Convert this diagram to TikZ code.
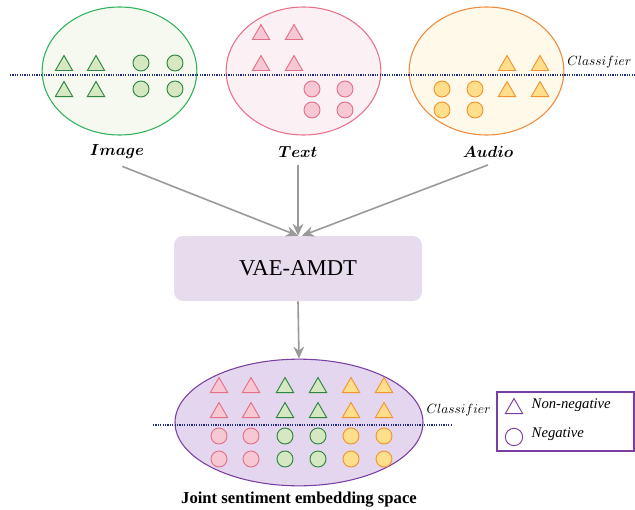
\documentclass[tikz,border=0pt]{standalone}
\usepackage{amsmath,bm}
\usepackage{fontspec}
\setmainfont{Liberation Serif}
\usetikzlibrary{arrows.meta,positioning,shapes.geometric}

\definecolor{imgline}{HTML}{2DB35C}
\definecolor{imgfill}{HTML}{F6F9F0}
\definecolor{txtline}{HTML}{E8708A}
\definecolor{txtfill}{HTML}{FBF1F4}
\definecolor{audline}{HTML}{F08A3C}
\definecolor{audfill}{HTML}{FFF9EA}
\definecolor{grnline}{HTML}{2E8540}
\definecolor{grnfill}{HTML}{D5E8C2}
\definecolor{pnkline}{HTML}{E46F89}
\definecolor{pnkfill}{HTML}{F6C8D3}
\definecolor{orgline}{HTML}{F29431}
\definecolor{orgfill}{HTML}{FFDF8C}
\definecolor{boxfill}{HTML}{E6DCEE}
\definecolor{spacefill}{HTML}{E3D6EE}
\definecolor{spaceline}{HTML}{7B3FA3}
\definecolor{clsline}{HTML}{1F2A80}
\definecolor{flowgray}{HTML}{9A9A9A}

\begin{document}
\begin{tikzpicture}[
  x=0.75pt, y=-0.75pt,
  >=Stealth,
  modality/.style={ellipse,draw,line width=0.8pt,minimum width=116pt,minimum height=96pt},
  tri/.style={regular polygon,regular polygon sides=3,draw,line width=0.7pt,minimum size=15pt,inner sep=0pt,yshift=-1.9pt},
  dot/.style={circle,draw,line width=0.7pt,minimum size=12pt,inner sep=0pt},
  green/.style={draw=grnline,fill=grnfill},
  pink/.style={draw=pnkline,fill=pnkfill},
  orange/.style={draw=orgline,fill=orgfill},
  modlabel/.style={font=\fontsize{12.5}{15}\selectfont},
  classline/.style={draw=clsline,line width=0.9pt,dash pattern=on 0.9pt off 0.9pt},
  flow/.style={->,draw=flowgray,line width=1.2pt,arrows={-Stealth[length=9pt,width=8pt]}}
]
\useasboundingbox (0,0) rectangle (635,510);

% input modalities
\node[modality,draw=imgline,fill=imgfill] (img) at (119.5,71) {};
\node[modality,draw=txtline,fill=txtfill] (txt) at (303.5,71) {};
\node[modality,draw=audline,fill=audfill] (aud) at (486.5,71) {};

\coordinate (clsL) at (10,75);
\coordinate (clsR) at (635,75);
\draw[classline] (clsL) -- (clsR);
\node[anchor=south east,inner sep=1pt] (cls1) at (633,70) {$Classifier$};

% image samples
\foreach \x/\i in {64/1,96/2} {
  \node[tri,green] (imgt\i a) at (\x,63) {};
  \node[tri,green] (imgt\i b) at (\x,89) {};
}
\foreach \x/\i in {141/1,175/2} {
  \node[dot,green] (imgc\i a) at (\x,63) {};
  \node[dot,green] (imgc\i b) at (\x,89) {};
}
% text samples
\foreach \x/\i in {261/1,294/2} {
  \node[tri,pink] (txtt\i a) at (\x,32) {};
  \node[tri,pink] (txtt\i b) at (\x,63) {};
}
\foreach \x/\i in {312/1,345/2} {
  \node[dot,pink] (txtc\i a) at (\x,89) {};
  \node[dot,pink] (txtc\i b) at (\x,110) {};
}
% audio samples
\foreach \x/\i in {507/1,540/2} {
  \node[tri,orange] (audt\i a) at (\x,63) {};
  \node[tri,orange] (audt\i b) at (\x,89) {};
}
\foreach \x/\i in {442/1,475/2} {
  \node[dot,orange] (audc\i a) at (\x,89) {};
  \node[dot,orange] (audc\i b) at (\x,110) {};
}

\node[modlabel] (imglbl) at (117,152) {$\bm{Image}$};
\node[modlabel] (txtlbl) at (298,152) {$\bm{Text}$};
\node[modlabel] (audlbl) at (488,152) {$\bm{Audio}$};

% model
\node[fill=boxfill,rounded corners=7pt,minimum width=186pt,minimum height=48.75pt,font=\fontsize{17}{20}\selectfont] (vae) at (298,268.5) {VAE-AMDT};

\draw[flow] ([xshift=4pt,yshift=-2pt]imglbl.south) -- (vae.north);
\draw[flow] ([yshift=-2pt]txtlbl.south) -- (vae.north);
\draw[flow] ([yshift=-2pt]audlbl.south) -- ([xshift=3pt]vae.north);

% joint space
\node[ellipse,draw=spaceline,fill=spacefill,line width=0.8pt,minimum width=186pt,minimum height=95pt] (space) at (299,422.5) {};
\draw[flow] (vae.south) -- (space.north);

\coordinate (cls2L) at (153,425);
\coordinate (cls2R) at (452,425);
\draw[classline] (cls2L) -- (cls2R);
\node[anchor=south west,inner sep=1pt] (cls2) at (425,418) {$Classifier$};

\foreach \x/\c/\i in {219/pink/1,251/pink/2,285/green/3,318/green/4,351/orange/5,384/orange/6} {
  \node[tri,\c] (jt\i a) at (\x,385) {};
  \node[tri,\c] (jt\i b) at (\x,410) {};
  \node[dot,\c] (jc\i a) at (\x,436) {};
  \node[dot,\c] (jc\i b) at (\x,459) {};
}

\node[font=\bfseries\fontsize{12.5}{15}\selectfont] (spacelbl) at (299,500) {Joint sentiment embedding space};

% legend
\node[draw=spaceline,line width=0.8pt,minimum width=102.75pt,minimum height=44.25pt] (legend) at (565.5,421.5) {};
\node[tri,draw=spaceline,fill=none] (legtri) at (514,406) {};
\node[dot,draw=spaceline,fill=none,minimum size=13pt] (legdot) at (514,437) {};
\node[anchor=west,font=\itshape\fontsize{11}{13}\selectfont] (legpos) at (527,405) {Non-negative};
\node[anchor=west,font=\itshape\fontsize{11}{13}\selectfont] (legneg) at (527,434) {Negative};
\end{tikzpicture}
\end{document}
